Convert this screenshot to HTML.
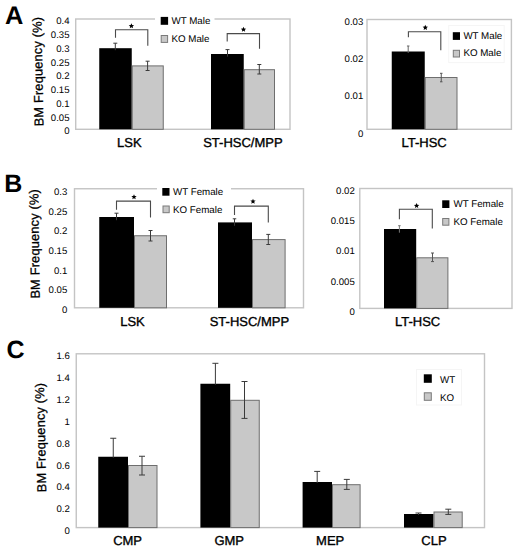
<!DOCTYPE html>
<html><head><meta charset="utf-8"><style>
html,body{margin:0;padding:0;background:#fff;width:520px;height:548px;overflow:hidden;}
svg{display:block;font-family:"Liberation Sans", sans-serif;text-rendering:geometricPrecision;}
</style></head><body>
<svg width="520" height="548" viewBox="0 0 520 548">
<g font-family='"Liberation Sans", sans-serif'>
<text x="5.1" y="23.9" font-size="25.4" text-anchor="start" font-weight="bold" fill="#000" >A</text>
<text x="4.3" y="192.1" font-size="25" text-anchor="start" font-weight="bold" fill="#000" >B</text>
<text x="6.5" y="358.2" font-size="25" text-anchor="start" font-weight="bold" fill="#000" >C</text>
<rect x="75.7" y="19" width="214.3" height="110.30000000000001" fill="#fff" stroke="#c4c4c4" stroke-width="1.4"/>
<text x="69.5" y="134.45" font-size="9.6" text-anchor="end" font-weight="normal" fill="#000" >0</text>
<text x="69.5" y="120.68" font-size="9.6" text-anchor="end" font-weight="normal" fill="#000" >0.05</text>
<text x="69.5" y="106.91" font-size="9.6" text-anchor="end" font-weight="normal" fill="#000" >0.1</text>
<text x="69.5" y="93.14" font-size="9.6" text-anchor="end" font-weight="normal" fill="#000" >0.15</text>
<text x="69.5" y="79.38" font-size="9.6" text-anchor="end" font-weight="normal" fill="#000" >0.2</text>
<text x="69.5" y="65.61" font-size="9.6" text-anchor="end" font-weight="normal" fill="#000" >0.25</text>
<text x="69.5" y="51.84" font-size="9.6" text-anchor="end" font-weight="normal" fill="#000" >0.3</text>
<text x="69.5" y="38.07" font-size="9.6" text-anchor="end" font-weight="normal" fill="#000" >0.35</text>
<text x="69.5" y="24.3" font-size="9.6" text-anchor="end" font-weight="normal" fill="#000" >0.4</text>
<rect x="99.25" y="48.2" width="32.5" height="81.10000000000001" fill="#000"/>
<rect x="132.25" y="65.9" width="31.0" height="63.400000000000006" fill="#c8c8c8" stroke="#6e6e6e" stroke-width="1"/>
<rect x="211" y="54" width="32.75" height="75.30000000000001" fill="#000"/>
<rect x="244.25" y="69.7" width="30.25" height="59.60000000000001" fill="#c8c8c8" stroke="#6e6e6e" stroke-width="1"/>
<line x1="115.3" y1="43.2" x2="115.3" y2="50.2" stroke="#3a3a3a" stroke-width="1"/>
<line x1="113.3" y1="43.2" x2="117.3" y2="43.2" stroke="#3a3a3a" stroke-width="1"/>
<line x1="147.6" y1="61.2" x2="147.6" y2="70.5" stroke="#3a3a3a" stroke-width="1"/>
<line x1="145.6" y1="61.2" x2="149.6" y2="61.2" stroke="#3a3a3a" stroke-width="1"/>
<line x1="145.6" y1="70.5" x2="149.6" y2="70.5" stroke="#3a3a3a" stroke-width="1"/>
<line x1="227.5" y1="49.6" x2="227.5" y2="56.6" stroke="#3a3a3a" stroke-width="1"/>
<line x1="225.5" y1="49.6" x2="229.5" y2="49.6" stroke="#3a3a3a" stroke-width="1"/>
<line x1="259.3" y1="64.5" x2="259.3" y2="74" stroke="#3a3a3a" stroke-width="1"/>
<line x1="257.3" y1="64.5" x2="261.3" y2="64.5" stroke="#3a3a3a" stroke-width="1"/>
<line x1="257.3" y1="74" x2="261.3" y2="74" stroke="#3a3a3a" stroke-width="1"/>
<polyline points="115.5,37.7 115.5,29.7 147.8,29.7 147.8,45.7" fill="none" stroke="#4a4a4a" stroke-width="1.1"/>
<polygon points="131.40,23.25 132.16,25.00 134.06,25.18 132.64,26.45 133.05,28.32 131.40,27.35 129.75,28.32 130.16,26.45 128.74,25.18 130.64,25.00" fill="#000"/>
<polyline points="227.2,41.5 227.2,33.6 259.5,33.6 259.5,48.8" fill="none" stroke="#4a4a4a" stroke-width="1.1"/>
<polygon points="243.50,26.75 244.26,28.50 246.16,28.68 244.74,29.95 245.15,31.82 243.50,30.85 241.85,31.82 242.26,29.95 240.84,28.68 242.74,28.50" fill="#000"/>
<rect x="155" y="10" width="59.5" height="38" fill="#fff"/>
<rect x="160.7" y="16.9" width="7.400000000000006" height="7.899999999999999" fill="#000"/>
<text x="171.5" y="23.6" font-size="9.75" text-anchor="start" font-weight="normal" fill="#000" >WT Male</text>
<rect x="161.2" y="35.5" width="6.4" height="6.9" fill="#c8c8c8" stroke="#7a7a7a" stroke-width="1"/>
<text x="171.5" y="41.6" font-size="9.75" text-anchor="start" font-weight="normal" fill="#000" >KO Male</text>
<text x="129.4" y="147" font-size="13" text-anchor="middle" font-weight="normal" fill="#000" stroke="#000" stroke-width="0.35" >LSK</text>
<text x="242.9" y="146.5" font-size="13" text-anchor="middle" font-weight="normal" fill="#000" stroke="#000" stroke-width="0.35" >ST-HSC/MPP</text>
<text x="0" y="0" font-size="12.9" font-weight="normal" stroke="#000" stroke-width="0.3" letter-spacing="0.13" text-anchor="middle" transform="translate(42.45,71.6) rotate(-91.1)">BM Frequency (%)</text>
<rect x="367" y="19.5" width="144.39999999999998" height="109.80000000000001" fill="#fff" stroke="#c4c4c4" stroke-width="1.4"/>
<text x="363.3" y="136.55" font-size="9.6" text-anchor="end" font-weight="normal" fill="#000" >0</text>
<text x="363.3" y="99.45" font-size="9.6" text-anchor="end" font-weight="normal" fill="#000" >0.01</text>
<text x="363.3" y="62.35" font-size="9.6" text-anchor="end" font-weight="normal" fill="#000" >0.02</text>
<text x="363.3" y="25.25" font-size="9.6" text-anchor="end" font-weight="normal" fill="#000" >0.03</text>
<rect x="391.75" y="51.5" width="33.0" height="77.80000000000001" fill="#000"/>
<rect x="425.25" y="77.5" width="31.75" height="51.80000000000001" fill="#c8c8c8" stroke="#6e6e6e" stroke-width="1"/>
<line x1="408.2" y1="46" x2="408.2" y2="53" stroke="#666" stroke-width="1"/>
<line x1="406.95" y1="46" x2="409.45" y2="46" stroke="#666" stroke-width="1"/>
<line x1="441.25" y1="73.3" x2="441.25" y2="81.8" stroke="#555" stroke-width="1"/>
<line x1="440.0" y1="73.3" x2="442.5" y2="73.3" stroke="#555" stroke-width="1"/>
<line x1="440.0" y1="81.8" x2="442.5" y2="81.8" stroke="#555" stroke-width="1"/>
<polyline points="408.4,37.2 408.4,31.7 440.8,31.7 440.8,50.3" fill="none" stroke="#4a4a4a" stroke-width="1.1"/>
<polygon points="425.30,24.85 426.06,26.60 427.96,26.78 426.54,28.05 426.95,29.92 425.30,28.95 423.65,29.92 424.06,28.05 422.64,26.78 424.54,26.60" fill="#000"/>
<rect x="448" y="25" width="57" height="38" fill="#fff"/>
<rect x="448.7" y="25.5" width="55.5" height="37.1" fill="none" stroke="#f5f5f5" stroke-width="1"/>
<rect x="452.8" y="32.2" width="7.199999999999989" height="7.700000000000003" fill="#000"/>
<text x="463.4" y="38.5" font-size="9.75" text-anchor="start" font-weight="normal" fill="#000" >WT Male</text>
<rect x="453.3" y="50.3" width="6.2" height="6.7" fill="#c8c8c8" stroke="#7a7a7a" stroke-width="1"/>
<text x="463.4" y="56.1" font-size="9.75" text-anchor="start" font-weight="normal" fill="#000" >KO Male</text>
<text x="424.1" y="147" font-size="13" text-anchor="middle" font-weight="normal" fill="#000" stroke="#000" stroke-width="0.35" >LT-HSC</text>
<rect x="74.5" y="188.75" width="229.0" height="119.05000000000001" fill="#fff" stroke="#c4c4c4" stroke-width="1.4"/>
<text x="67.3" y="312.85" font-size="9.6" text-anchor="end" font-weight="normal" fill="#000" >0</text>
<text x="67.3" y="293.2" font-size="9.6" text-anchor="end" font-weight="normal" fill="#000" >0.05</text>
<text x="67.3" y="273.55" font-size="9.6" text-anchor="end" font-weight="normal" fill="#000" >0.1</text>
<text x="67.3" y="253.9" font-size="9.6" text-anchor="end" font-weight="normal" fill="#000" >0.15</text>
<text x="67.3" y="234.25" font-size="9.6" text-anchor="end" font-weight="normal" fill="#000" >0.2</text>
<text x="67.3" y="214.6" font-size="9.6" text-anchor="end" font-weight="normal" fill="#000" >0.25</text>
<text x="67.3" y="194.95" font-size="9.6" text-anchor="end" font-weight="normal" fill="#000" >0.3</text>
<rect x="99.25" y="217" width="34.75" height="90.80000000000001" fill="#000"/>
<rect x="134.5" y="235.75" width="32" height="72.05000000000001" fill="#c8c8c8" stroke="#6e6e6e" stroke-width="1"/>
<rect x="218" y="222.4" width="34" height="85.4" fill="#000"/>
<rect x="252.5" y="239.6" width="32.60000000000002" height="68.20000000000002" fill="#c8c8c8" stroke="#6e6e6e" stroke-width="1"/>
<line x1="116.5" y1="213.2" x2="116.5" y2="220.2" stroke="#3a3a3a" stroke-width="1"/>
<line x1="114.5" y1="213.2" x2="118.5" y2="213.2" stroke="#3a3a3a" stroke-width="1"/>
<line x1="150.5" y1="230.5" x2="150.5" y2="241" stroke="#3a3a3a" stroke-width="1"/>
<line x1="148.5" y1="230.5" x2="152.5" y2="230.5" stroke="#3a3a3a" stroke-width="1"/>
<line x1="148.5" y1="241" x2="152.5" y2="241" stroke="#3a3a3a" stroke-width="1"/>
<line x1="234.5" y1="218.8" x2="234.5" y2="225.8" stroke="#3a3a3a" stroke-width="1"/>
<line x1="232.75" y1="218.8" x2="236.25" y2="218.8" stroke="#3a3a3a" stroke-width="1"/>
<line x1="268.3" y1="234.4" x2="268.3" y2="244.5" stroke="#3a3a3a" stroke-width="1"/>
<line x1="266.3" y1="234.4" x2="270.3" y2="234.4" stroke="#3a3a3a" stroke-width="1"/>
<line x1="266.3" y1="244.5" x2="270.3" y2="244.5" stroke="#3a3a3a" stroke-width="1"/>
<polyline points="116.5,209.8 116.5,201.1 150.5,201.1 150.5,217.4" fill="none" stroke="#4a4a4a" stroke-width="1.1"/>
<polygon points="134.00,194.15 134.76,195.90 136.66,196.08 135.24,197.35 135.65,199.22 134.00,198.25 132.35,199.22 132.76,197.35 131.34,196.08 133.24,195.90" fill="#000"/>
<polyline points="234.5,215 234.5,206.1 268.3,206.1 268.3,222.5" fill="none" stroke="#4a4a4a" stroke-width="1.1"/>
<polygon points="253.00,198.65 253.76,200.40 255.66,200.58 254.24,201.85 254.65,203.72 253.00,202.75 251.35,203.72 251.76,201.85 250.34,200.58 252.24,200.40" fill="#000"/>
<rect x="157" y="182" width="74" height="40" fill="#fff"/>
<rect x="162.3" y="188.0" width="7.199999999999989" height="7.699999999999989" fill="#000"/>
<text x="173" y="194.9" font-size="9.75" text-anchor="start" font-weight="normal" fill="#000" >WT Female</text>
<rect x="163.0" y="206.0" width="6.2" height="6.7" fill="#c8c8c8" stroke="#7a7a7a" stroke-width="1"/>
<text x="173" y="213.2" font-size="9.75" text-anchor="start" font-weight="normal" fill="#000" >KO Female</text>
<text x="132.5" y="325.5" font-size="13" text-anchor="middle" font-weight="normal" fill="#000" stroke="#000" stroke-width="0.35" >LSK</text>
<text x="249.4" y="325.8" font-size="13" text-anchor="middle" font-weight="normal" fill="#000" stroke="#000" stroke-width="0.35" >ST-HSC/MPP</text>
<text x="0" y="0" font-size="12.9" font-weight="normal" stroke="#000" stroke-width="0.3" letter-spacing="0.13" text-anchor="middle" transform="translate(39,243.85) rotate(-90.8)">BM Frequency (%)</text>
<rect x="359.8" y="188.5" width="152.2" height="119.89999999999998" fill="#fff" stroke="#c4c4c4" stroke-width="1.4"/>
<text x="354.8" y="315.05" font-size="9.6" text-anchor="end" font-weight="normal" fill="#000" >0</text>
<text x="354.8" y="284.75" font-size="9.6" text-anchor="end" font-weight="normal" fill="#000" >0.005</text>
<text x="354.8" y="254.45" font-size="9.6" text-anchor="end" font-weight="normal" fill="#000" >0.01</text>
<text x="354.8" y="224.15" font-size="9.6" text-anchor="end" font-weight="normal" fill="#000" >0.015</text>
<text x="354.8" y="193.85" font-size="9.6" text-anchor="end" font-weight="normal" fill="#000" >0.02</text>
<rect x="384" y="229" width="32.19999999999999" height="79.39999999999998" fill="#000"/>
<rect x="416.7" y="257.8" width="31.19999999999999" height="50.599999999999966" fill="#c8c8c8" stroke="#6e6e6e" stroke-width="1"/>
<line x1="399.4" y1="225.7" x2="399.4" y2="232.7" stroke="#777" stroke-width="1"/>
<line x1="398.15" y1="225.7" x2="400.65" y2="225.7" stroke="#777" stroke-width="1"/>
<line x1="432.5" y1="253" x2="432.5" y2="261.6" stroke="#555" stroke-width="1"/>
<line x1="431.0" y1="253" x2="434.0" y2="253" stroke="#555" stroke-width="1"/>
<line x1="431.0" y1="261.6" x2="434.0" y2="261.6" stroke="#555" stroke-width="1"/>
<polyline points="399.4,219.2 399.4,209.2 432.3,209.2 432.3,228.5" fill="none" stroke="#4a4a4a" stroke-width="1.1"/>
<polygon points="416.60,202.95 417.36,204.70 419.26,204.88 417.84,206.15 418.25,208.02 416.60,207.05 414.95,208.02 415.36,206.15 413.94,204.88 415.84,204.70" fill="#000"/>
<rect x="438" y="195" width="72" height="37" fill="#fff"/>
<rect x="442.2" y="200.3" width="7.199999999999989" height="7.699999999999989" fill="#000"/>
<text x="453.5" y="207.4" font-size="9.75" text-anchor="start" font-weight="normal" fill="#000" >WT Female</text>
<rect x="442.7" y="218.5" width="6.2" height="6.7" fill="#c8c8c8" stroke="#7a7a7a" stroke-width="1"/>
<text x="453.5" y="225.3" font-size="9.75" text-anchor="start" font-weight="normal" fill="#000" >KO Female</text>
<text x="417.6" y="326" font-size="13" text-anchor="middle" font-weight="normal" fill="#000" stroke="#000" stroke-width="0.35" >LT-HSC</text>
<rect x="76.25" y="353.8" width="408.25" height="173.8" fill="#fff" stroke="#c4c4c4" stroke-width="1.4"/>
<text x="69.8" y="534.05" font-size="9.6" text-anchor="end" font-weight="normal" fill="#000" >0</text>
<text x="69.8" y="512.23" font-size="9.6" text-anchor="end" font-weight="normal" fill="#000" >0.2</text>
<text x="69.8" y="490.4" font-size="9.6" text-anchor="end" font-weight="normal" fill="#000" >0.4</text>
<text x="69.8" y="468.57" font-size="9.6" text-anchor="end" font-weight="normal" fill="#000" >0.6</text>
<text x="69.8" y="446.75" font-size="9.6" text-anchor="end" font-weight="normal" fill="#000" >0.8</text>
<text x="69.8" y="424.93" font-size="9.6" text-anchor="end" font-weight="normal" fill="#000" >1</text>
<text x="69.8" y="403.1" font-size="9.6" text-anchor="end" font-weight="normal" fill="#000" >1.2</text>
<text x="69.8" y="381.27" font-size="9.6" text-anchor="end" font-weight="normal" fill="#000" >1.4</text>
<text x="69.8" y="359.45" font-size="9.6" text-anchor="end" font-weight="normal" fill="#000" >1.6</text>
<rect x="98.25" y="456.75" width="29.75" height="70.85000000000002" fill="#000"/>
<rect x="128.5" y="465.5" width="28.5" height="62.10000000000002" fill="#c8c8c8" stroke="#6e6e6e" stroke-width="1"/>
<rect x="200.4" y="383.75" width="29.799999999999983" height="143.85000000000002" fill="#000"/>
<rect x="230.7" y="400.3" width="28.55000000000001" height="127.30000000000001" fill="#c8c8c8" stroke="#6e6e6e" stroke-width="1"/>
<rect x="302.6" y="482" width="29.399999999999977" height="45.60000000000002" fill="#000"/>
<rect x="332.5" y="484.7" width="27.600000000000023" height="42.900000000000034" fill="#c8c8c8" stroke="#6e6e6e" stroke-width="1"/>
<rect x="404" y="514" width="29.5" height="13.600000000000023" fill="#000"/>
<rect x="434.0" y="512.0" width="28.19999999999999" height="15.600000000000023" fill="#c8c8c8" stroke="#6e6e6e" stroke-width="1"/>
<line x1="113.25" y1="438.25" x2="113.25" y2="457.75" stroke="#3a3a3a" stroke-width="1"/>
<line x1="110.25" y1="438.25" x2="116.25" y2="438.25" stroke="#3a3a3a" stroke-width="1"/>
<line x1="142" y1="456.25" x2="142" y2="475" stroke="#3a3a3a" stroke-width="1"/>
<line x1="139.0" y1="456.25" x2="145.0" y2="456.25" stroke="#3a3a3a" stroke-width="1"/>
<line x1="139.0" y1="475" x2="145.0" y2="475" stroke="#3a3a3a" stroke-width="1"/>
<line x1="215.4" y1="363.3" x2="215.4" y2="384.75" stroke="#3a3a3a" stroke-width="1"/>
<line x1="212.4" y1="363.3" x2="218.4" y2="363.3" stroke="#3a3a3a" stroke-width="1"/>
<line x1="244.5" y1="381.5" x2="244.5" y2="418.4" stroke="#3a3a3a" stroke-width="1"/>
<line x1="241.5" y1="381.5" x2="247.5" y2="381.5" stroke="#3a3a3a" stroke-width="1"/>
<line x1="241.5" y1="418.4" x2="247.5" y2="418.4" stroke="#3a3a3a" stroke-width="1"/>
<line x1="317.2" y1="471.4" x2="317.2" y2="483" stroke="#3a3a3a" stroke-width="1"/>
<line x1="314.2" y1="471.4" x2="320.2" y2="471.4" stroke="#3a3a3a" stroke-width="1"/>
<line x1="346.8" y1="479.4" x2="346.8" y2="489.4" stroke="#3a3a3a" stroke-width="1"/>
<line x1="343.8" y1="479.4" x2="349.8" y2="479.4" stroke="#3a3a3a" stroke-width="1"/>
<line x1="343.8" y1="489.4" x2="349.8" y2="489.4" stroke="#3a3a3a" stroke-width="1"/>
<line x1="418.5" y1="513" x2="418.5" y2="515" stroke="#3a3a3a" stroke-width="1"/>
<line x1="415.5" y1="513" x2="421.5" y2="513" stroke="#3a3a3a" stroke-width="1"/>
<line x1="448.3" y1="509.2" x2="448.3" y2="514.4" stroke="#3a3a3a" stroke-width="1"/>
<line x1="445.3" y1="509.2" x2="451.3" y2="509.2" stroke="#3a3a3a" stroke-width="1"/>
<line x1="445.3" y1="514.4" x2="451.3" y2="514.4" stroke="#3a3a3a" stroke-width="1"/>
<rect x="416" y="369" width="46" height="36" fill="#fff"/>
<rect x="416.5" y="369.5" width="45.0" height="35.5" fill="none" stroke="#f5f5f5" stroke-width="1"/>
<rect x="423.8" y="374.3" width="8.0" height="8.5" fill="#000"/>
<text x="440" y="382.6" font-size="9.75" text-anchor="start" font-weight="normal" fill="#000" >WT</text>
<rect x="424.3" y="392.8" width="7" height="7.5" fill="#c8c8c8" stroke="#7a7a7a" stroke-width="1"/>
<text x="440" y="400.5" font-size="9.75" text-anchor="start" font-weight="normal" fill="#000" >KO</text>
<text x="127.6" y="544.5" font-size="13" text-anchor="middle" font-weight="normal" fill="#000" stroke="#000" stroke-width="0.35" >CMP</text>
<text x="229.2" y="544.5" font-size="13" text-anchor="middle" font-weight="normal" fill="#000" stroke="#000" stroke-width="0.35" >GMP</text>
<text x="330.2" y="544.5" font-size="13" text-anchor="middle" font-weight="normal" fill="#000" stroke="#000" stroke-width="0.35" >MEP</text>
<text x="434" y="544.5" font-size="13" text-anchor="middle" font-weight="normal" fill="#000" stroke="#000" stroke-width="0.35" >CLP</text>
<text x="0" y="0" font-size="12.9" font-weight="normal" stroke="#000" stroke-width="0.3" letter-spacing="0.13" text-anchor="middle" transform="translate(45.1,437.5) rotate(-91.1)">BM Frequency (%)</text>
</g></svg>
</body></html>
